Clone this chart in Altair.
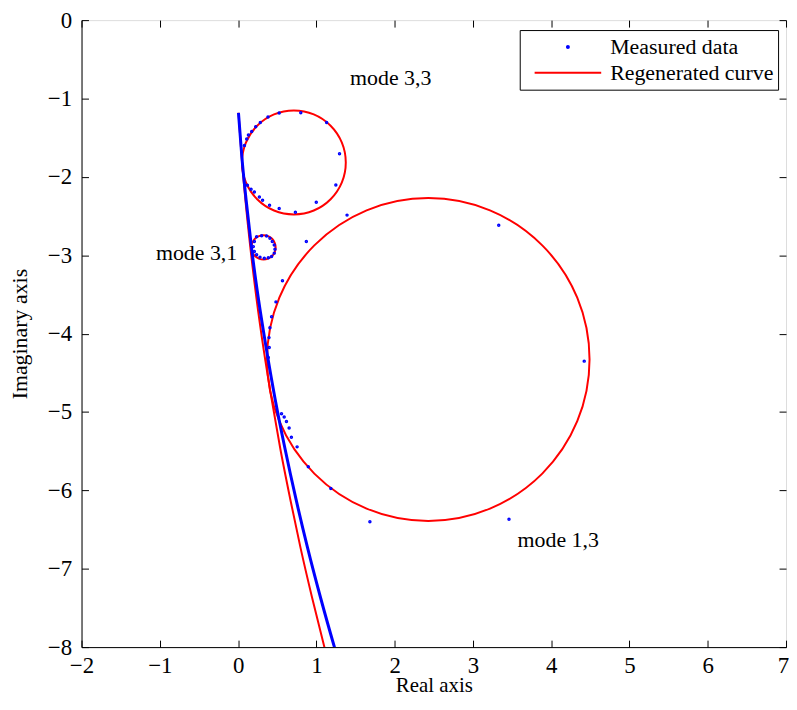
import altair as alt
import pandas as pd

FONT = "Liberation Serif"

# ---- Measured data: dense part of the trajectory (drawn as a thick dotted band)
meas_line_x = [0.005, 0.049, 0.103, 0.175, 0.261, 0.362, 0.473, 0.599, 0.737, 0.888, 1.053, 1.231, 1.268]
meas_line_y = [-1.182, -1.753, -2.298, -2.932, -3.565, -4.199, -4.833, -5.466, -6.100, -6.734, -7.367, -8.001, -8.128]

# ---- Measured data: individual sparse points (on the mode circles)
meas_pts_x = [
    # mode 3,3
    0.081, 0.110, 0.132, 0.174, 0.225, 0.284, 0.382, 0.525, 0.801, 1.131, 1.296, 1.249, 0.999, 0.732,
    0.525, 0.402, 0.313, 0.272, 0.208, 0.166, 0.119,
    # mode 3,1
    0.237, 0.301, 0.364, 0.407, 0.437, 0.462, 0.471, 0.462, 0.428, 0.386, 0.335, 0.280, 0.237, 0.208, 0.195, 0.208,
    # mode 1,3
    1.392, 0.872, 0.567, 0.484, 0.428, 0.407, 0.395, 0.398, 0.386, 3.330, 4.422, 3.461, 1.684,
    1.185, 0.897, 0.754, 0.681, 0.652, 0.618, 0.589, 0.555,
]
meas_pts_y = [
    -1.601, -1.516, -1.465, -1.420, -1.360, -1.305, -1.237, -1.186, -1.183, -1.305, -1.706, -2.104, -2.323, -2.450,
    -2.403, -2.361, -2.298, -2.256, -2.193, -2.158, -2.108,
    -2.763, -2.750, -2.754, -2.783, -2.826, -2.868, -2.923, -2.973, -3.016, -3.033, -3.037, -3.024, -2.995, -2.953, -2.890, -2.826,
    -2.488, -2.826, -3.325, -3.595, -3.785, -3.924, -4.051, -4.177, -4.304, -2.617, -4.351, -6.370, -6.400,
    -5.977, -5.698, -5.445, -5.323, -5.204, -5.120, -5.065, -5.023,
]

# ---- Regenerated curve: backbone
reg_x = [0.005, 0.046, 0.094, 0.160, 0.237, 0.326, 0.428, 0.539, 0.664, 0.798, 0.945, 1.103, 1.136]
reg_y = [-1.182, -1.753, -2.298, -2.932, -3.565, -4.199, -4.833, -5.466, -6.100, -6.734, -7.367, -8.001, -8.128]

# ---- Regenerated curve: the three modal circles (points read around each loop)
c33_x = [1.376, 1.326, 1.182, 0.967, 0.713, 0.459, 0.244, 0.100, 0.050, 0.100, 0.244, 0.459, 0.713, 0.967, 1.182, 1.326]
c33_y = [-1.816, -1.562, -1.347, -1.203, -1.153, -1.203, -1.347, -1.562, -1.816, -2.070, -2.285, -2.429, -2.479, -2.429, -2.285, -2.070]
c31_x = [0.480, 0.468, 0.435, 0.384, 0.325, 0.266, 0.215, 0.182, 0.170, 0.182, 0.215, 0.266, 0.325, 0.384, 0.435, 0.468]
c31_y = [-2.900, -2.841, -2.790, -2.757, -2.745, -2.757, -2.790, -2.841, -2.900, -2.959, -3.010, -3.043, -3.055, -3.043, -3.010, -2.959]
c13_x = [4.490, 4.333, 3.886, 3.218, 2.430, 1.642, 0.974, 0.527, 0.370, 0.527, 0.974, 1.642, 2.430, 3.218, 3.886, 4.333]
c13_y = [-4.330, -3.542, -2.874, -2.427, -2.270, -2.427, -2.874, -3.542, -4.330, -5.118, -5.786, -6.233, -6.390, -6.233, -5.786, -5.118]

# ---- Annotations
note_text = ["mode 3,3", "mode 3,1", "mode 1,3"]
note_x = [1.43, -1.05, 3.57]
note_y = [-0.74, -2.97, -6.63]

series_names = ["Measured data", "Regenerated curve"]
x_ticks = [-2, -1, 0, 1, 2, 3, 4, 5, 6, 7]
y_ticks = [-8, -7, -6, -5, -4, -3, -2, -1, 0]

W, H = 709, 631

# ---- tables
df_reg = pd.DataFrame({"x": reg_x, "y": reg_y, "series": series_names[1], "i": range(len(reg_x))})
circ_rows = []
for name, xs_, ys_ in [("3,3", c33_x, c33_y), ("3,1", c31_x, c31_y), ("1,3", c13_x, c13_y)]:
    for k, (a, b) in enumerate(zip(xs_, ys_)):
        circ_rows.append({"x": a, "y": b, "group": name, "series": series_names[1], "i": k})
df_circ = pd.DataFrame(circ_rows)
df_mline = pd.DataFrame({"x": meas_line_x, "y": meas_line_y, "series": series_names[0], "i": range(len(meas_line_x))})
df_pts = pd.DataFrame({"x": meas_pts_x, "y": meas_pts_y, "series": series_names[0]})
df_txt = pd.DataFrame({"x": note_x, "y": note_y, "t": note_text})

xs = alt.Scale(domain=[-2, 7], nice=False, zero=False)
ys = alt.Scale(domain=[-8, 0], nice=False, zero=False)

legend = alt.Legend(
    title=None, orient="none", legendX=441, legendY=10, direction="vertical",
    strokeColor="black", fillColor="white", padding=4, symbolOffset=10, labelOffset=8,
    labelFont=FONT, labelFontSize=22, labelColor="black", labelLimit=400, clipHeight=26, rowPadding=0,
    symbolStrokeWidth=2,
)
color = alt.Color("series:N", scale=alt.Scale(domain=series_names, range=["#0000ff", "#ff0000"]), legend=legend)

common_tick = dict(values=x_ticks, labels=False, domain=False, ticks=True, tickSize=7,
                   tickColor="black", tickWidth=1, title=None, grid=False)
common_ytick = dict(common_tick, values=y_ticks)

label_style = dict(labelFont=FONT, labelFontSize=23, labelColor="black", labelFlush=False, labelOverlap=False)

# main axes with labels
ax_x_main = alt.Axis(orient="bottom", values=x_ticks[:-1], ticks=False, domain=True, domainColor="black",
                     labelPadding=8, title="Real axis", titleFont=FONT,
                     titleFontSize=21, titleFontWeight="normal", titleColor="black",
                     titleBaseline="alphabetic", titleY=45, grid=False, **label_style)
# last x label nudged to stay inside the page
ax_x_last = alt.Axis(orient="bottom", values=x_ticks[-1:], ticks=False, domain=False, labelPadding=8,
                     labelOffset=-3, title=None, grid=False, **label_style)
ax_y_main = alt.Axis(orient="left", values=y_ticks, ticks=False, domain=True, domainColor="black",
                     labelPadding=10, title="Imaginary axis", titleFont=FONT,
                     titleFontSize=22, titleFontWeight="normal", titleColor="black", titlePadding=16, grid=False,
                     **label_style)
# inward ticks (axes moved onto the opposite edges)
ax_x_in_bottom = alt.Axis(orient="top", offset=-H, **common_tick)
ax_x_in_top = alt.Axis(orient="bottom", offset=-H, **common_tick)
ax_y_in_left = alt.Axis(orient="right", offset=-W, **common_ytick)
ax_y_in_right = alt.Axis(orient="left", offset=-W, **common_ytick)

reg_line = alt.Chart(df_reg).mark_line(strokeWidth=2, interpolate="monotone", clip=True).encode(
    x=alt.X("x:Q", scale=xs, axis=ax_x_main),
    y=alt.Y("y:Q", scale=ys, axis=ax_y_main),
    order="i:Q",
    color=color,
)
circ_line = alt.Chart(df_circ).mark_line(strokeWidth=2, interpolate="cardinal-closed", clip=True).encode(
    x=alt.X("x:Q", scale=xs, axis=ax_x_in_bottom),
    y=alt.Y("y:Q", scale=ys, axis=ax_y_in_left),
    detail="group:N",
    order="i:Q",
    color=color,
)
meas_line = alt.Chart(df_mline).mark_line(strokeWidth=3, interpolate="monotone", clip=True).encode(
    x=alt.X("x:Q", scale=xs, axis=ax_x_in_top),
    y=alt.Y("y:Q", scale=ys, axis=ax_y_in_right),
    order="i:Q",
    color=color,
)
meas_pts = alt.Chart(df_pts).mark_point(filled=False, strokeWidth=1.5, opacity=1, clip=True).encode(
    x=alt.X("x:Q", scale=xs, axis=ax_x_last),
    y=alt.Y("y:Q", scale=ys, axis=None),
    color=color,
    shape=alt.Shape("series:N", scale=alt.Scale(type="ordinal", domain=series_names, range=["circle", "stroke"]), legend=legend),
    size=alt.Size("series:N", scale=alt.Scale(type="ordinal", domain=series_names, range=[4, 4489]), legend=legend),
)
notes = alt.Chart(df_txt).mark_text(align="left", baseline="middle", font=FONT, fontSize=22, color="black").encode(
    x=alt.X("x:Q", scale=xs, axis=None),
    y=alt.Y("y:Q", scale=ys, axis=None),
    text="t:N",
)

chart = alt.layer(reg_line, circ_line, meas_line, meas_pts, notes).resolve_axis(
    x="independent", y="independent"
).properties(
    width=W, height=H,
    autosize=alt.AutoSizeParams(type="none"),
    padding={"left": 74, "top": 10, "right": 3, "bottom": 47},
).configure_view(stroke="black", strokeWidth=1).configure(background="white")

chart.save("out.html", embed_options={"renderer": "svg", "actions": False})
